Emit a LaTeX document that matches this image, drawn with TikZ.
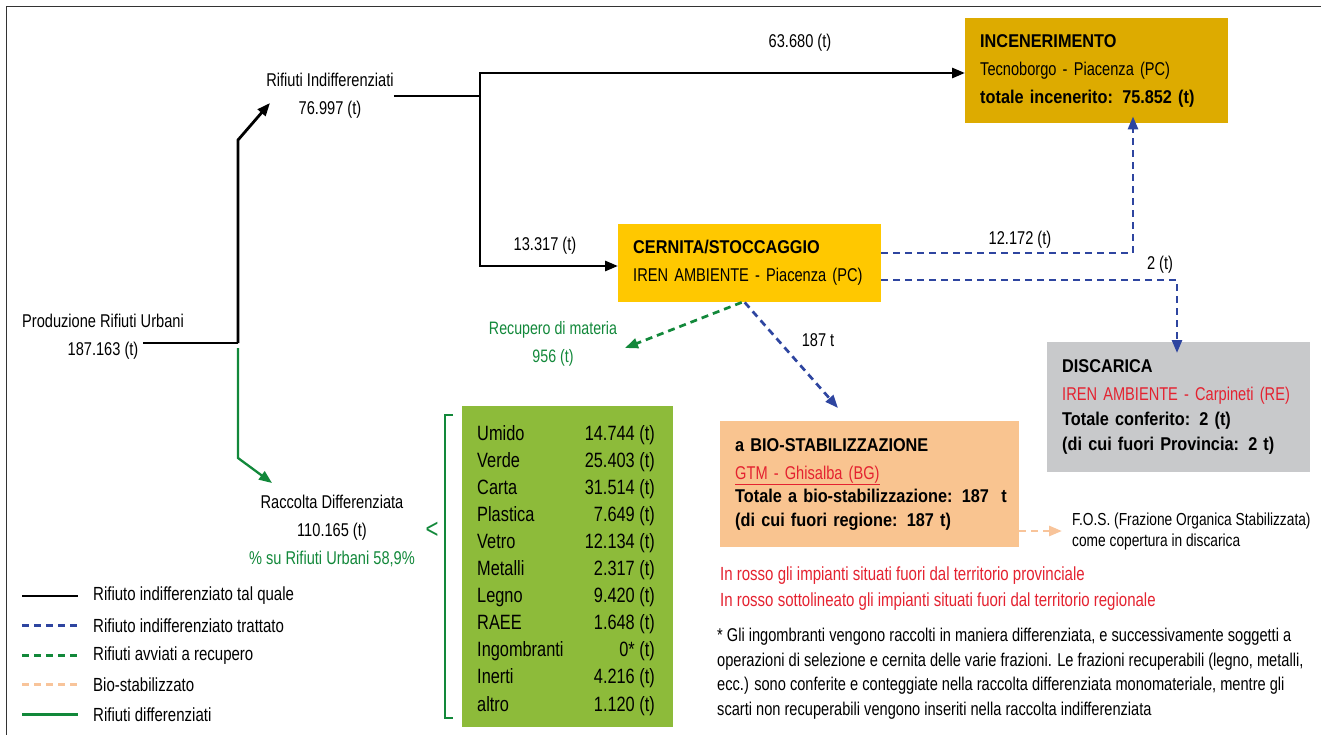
\documentclass[tikz,border=0pt]{standalone}
\usepackage{fontspec}
\setmainfont{Liberation Sans}[FakeStretch=0.79, BoldFeatures={FakeStretch=0.88}]
\usetikzlibrary{arrows.meta,positioning}

\definecolor{incgold}{HTML}{DDAB00}
\definecolor{cernyellow}{HTML}{FFC800}
\definecolor{discgray}{HTML}{C8C9CB}
\definecolor{bioorange}{HTML}{F9C490}
\definecolor{diffgreen}{HTML}{8DBB3A}
\definecolor{flowblue}{HTML}{2E45A0}
\definecolor{flowgreen}{HTML}{12883A}
\definecolor{biodash}{HTML}{F8C49A}
\definecolor{plantred}{HTML}{E42230}

\newcommand{\txtfont}{\fontsize{18.5}{28}\selectfont}
\newcommand{\smallfont}{\fontsize{18.5}{24.5}\selectfont}

\begin{document}
\begin{tikzpicture}[x=1pt, y=-1pt,
    lbl/.style={inner sep=0pt, font=\txtfont, align=center},
    box/.style={anchor=north west, inner xsep=15pt, inner ysep=0pt, align=left, font=\txtfont},
    arr/.style={-{Triangle[length=13pt, width=10pt]}},
    blk/.style={line width=2.8pt, black},
    bldash/.style={line width=2.7pt, flowblue, dash pattern=on 7pt off 5pt},
    grdash/.style={line width=2.7pt, flowgreen, dash pattern=on 7pt off 5pt},
    ordash/.style={line width=2.8pt, biodash, dash pattern=on 7pt off 5pt},
    grsolid/.style={line width=2.3pt, flowgreen}
]
    \useasboundingbox (0,0) rectangle (1321,735);
    % frame
    \draw[line width=1pt, black!80] (6,735) -- (6,7) -- (1321,7);

    % boxes
    \node[box, fill=incgold, minimum width=263pt, minimum height=105pt, text width=233pt] (inc) at (965,18)
        {\textbf{INCENERIMENTO}\\Tecnoborgo - Piacenza (PC)\\\textbf{totale incenerito: 75.852 (t)}};
    \node[box, fill=cernyellow, minimum width=263pt, minimum height=78pt, text width=233pt] (cern) at (618,224)
        {\textbf{CERNITA/STOCCAGGIO}\\IREN AMBIENTE - Piacenza (PC)};
    \node[box, fill=discgray, minimum width=263pt, minimum height=130pt, text width=233pt] (disc) at (1047,342)
        {\textbf{DISCARICA}\\\textcolor{plantred}{IREN AMBIENTE - Carpineti (RE)}\\[-3pt]\textbf{Totale conferito: 2 (t)}\\[-3pt]\textbf{(di cui fuori Provincia: 2 t)}};
    \node[box, fill=bioorange, minimum width=299pt, minimum height=126pt, text width=269pt] (bio) at (720,421)
        {\textbf{a BIO-STABILIZZAZIONE}\\\textcolor{plantred}{\underline{GTM - Ghisalba (BG)}}\\[-5pt]\mbox{\textbf{Totale a bio-stabilizzazione: 187\ \ t}}\\[-4pt]\textbf{(di cui fuori regione: 187 t)}};
    \node[anchor=north west, inner sep=0pt, fill=diffgreen, minimum width=211pt, minimum height=321pt] (diff) at (462,406) {};

    % labels
    \node[lbl] (prod) at (103,337) {Produzione Rifiuti Urbani\\187.163 (t)};
    \node[lbl] (indiff) at (330,96) {Rifiuti Indifferenziati\\76.997 (t)};
    \node[lbl] (racc) at (332,531) {Raccolta Differenziata\\110.165 (t)\\\textcolor{flowgreen}{\% su Rifiuti Urbani 58,9\%}};
    \node[lbl, flowgreen, font=\fontsize{18}{28}\selectfont] (recup) at (553,344) {Recupero di materia\\956 (t)};
    \node[lbl] (qinc) at (800,43) {63.680 (t)};
    \node[lbl] (qcern) at (545,246) {13.317 (t)};
    \node[lbl] (qblue) at (1020,240) {12.172 (t)};
    \node[lbl] (qdisc) at (1160,265) {2 (t)};
    \node[lbl] (qbio) at (818,340) {187 t};
    \node[lbl, anchor=west, align=left, font=\fontsize{17.4}{21}\selectfont] (fos) at (1072,531)
        {F.O.S. (Frazione Organica Stabilizzata)\\come copertura in discarica};
    \node[lbl, anchor=north west, align=left, plantred, font=\fontsize{19}{26}\selectfont] (redkey) at (720,567)
        {In rosso gli impianti situati fuori dal territorio provinciale\\In rosso sottolineato gli impianti situati fuori dal territorio regionale};
    \node[lbl, anchor=north west, align=left, font=\smallfont] (note) at (717,628)
        {* Gli ingombranti vengono raccolti in maniera differenziata, e successivamente soggetti a\\
         operazioni di selezione e cernita delle varie frazioni. Le frazioni recuperabili (legno, metalli,\\
         ecc.) sono conferite e conteggiate nella raccolta differenziata monomateriale, mentre gli\\
         scarti non recuperabili vengono inseriti nella raccolta indifferenziata};

    % fractions of the separate collection
    \foreach \fname/\fval [count=\i] in {Umido/14.744, Verde/25.403, Carta/31.514, Plastica/7.649,
        Vetro/12.134, Metalli/2.317, Legno/9.420, RAEE/1.648, Ingombranti/0*, Inerti/4.216, altro/1.120} {
        \node[lbl, anchor=base west, font=\fontsize{20.7}{24}\selectfont] (fr\i) at (477,{440+27.1*(\i-1)}) {\fname};
        \node[lbl, anchor=base east, font=\fontsize{20.7}{24}\selectfont] (fv\i) at (655,{440+27.1*(\i-1)}) {\fval\ (t)};
    }
    \draw[flowgreen, line width=1.2pt] (453,415) -- (445,415) -- (445,718) -- (453,718);
    \node[lbl, flowgreen, font=\fontsize{28}{28}\selectfont] (lt) at (432,530) {<};

    % connectors
    \coordinate (prodout) at (143,343);
    \coordinate (split) at (238,343);
    \coordinate (indin) at (270,103);
    \coordinate (raccin) at (272,483);
    \coordinate (fork) at (480,96);
    \coordinate (recupin) at (625,348);
    \coordinate (bioin) at (838,408);
    \draw[blk] (prodout) -- (split);
    \draw[blk, arr] (split) -- (238,140) -- (indin);
    \draw[grsolid, arr] (238,348) -- (238,458) -- (raccin);
    \draw[blk] (indiff.east |- fork) -- (fork);
    \draw[blk, arr] (fork) |- (inc.west |- 0,73);
    \draw[blk, arr] (fork) |- (cern.west |- 0,266);
    \draw[bldash, arr] (cern.east |- 0,253) -| ([yshift=7pt]inc.south -| 1133,0);
    \draw[bldash, arr] (cern.east |- 0,280) -| ([yshift=-11pt]disc.north -| 1177,0);
    \draw[bldash, arr] ([xshift=-5pt]cern.south) -- (bioin);
    \draw[grdash, arr] ([xshift=-8pt]cern.south) -- (recupin);
    \draw[ordash, arr] (bio.east |- 0,531) -- (1062,531);

    % legend
    \foreach \lst/\ltxt [count=\i] in {blk/Rifiuto indifferenziato tal quale, bldash/Rifiuto indifferenziato trattato,
        grdash/Rifiuti avviati a recupero, ordash/Bio-stabilizzato, grsolid/Rifiuti differenziati} {
        \draw[\lst] (22,{596+29.6*(\i-1)}) -- (78,{596+29.6*(\i-1)});
        \node[lbl, anchor=west, font=\fontsize{19}{20}\selectfont] (leg\i) at (93,{596+29.6*(\i-1)}) {\ltxt};
    }
\end{tikzpicture}
\end{document}
